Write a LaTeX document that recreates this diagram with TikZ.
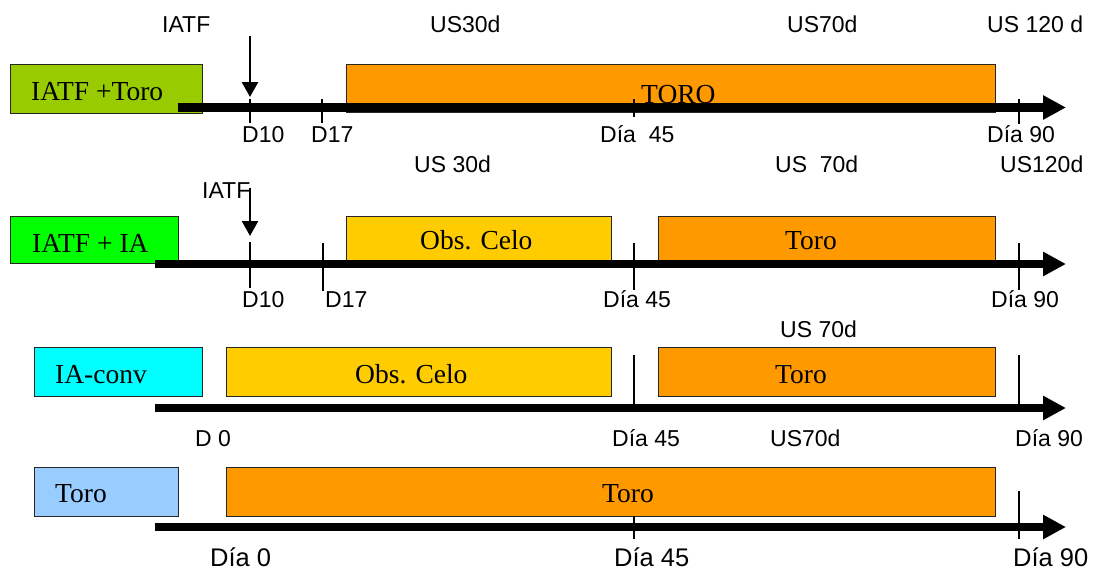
\documentclass[tikz,border=0pt]{standalone}
\usepackage{fontspec}
\setmainfont{Liberation Serif}
\newfontfamily\arialf{Liberation Sans}
\usetikzlibrary{arrows.meta}
\definecolor{cgA}{HTML}{99CC00}
\definecolor{cgB}{HTML}{00FF00}
\definecolor{ccy}{HTML}{00FFFF}
\definecolor{cbl}{HTML}{99CCFF}
\definecolor{cor}{HTML}{FF9900}
\definecolor{cye}{HTML}{FFCC00}
\begin{document}
\begin{tikzpicture}[x=1pt,y=-1pt,
 bx/.style={draw=black!85, line width=0.9pt, anchor=north west, inner sep=0pt, outer sep=0pt},
 lbl/.style={font=\arialf\fontsize{23}{26}\selectfont, anchor=base west, inner sep=0pt},
 lblbig/.style={font=\arialf\fontsize{25.5}{28}\selectfont, anchor=base west, inner sep=0pt},
 srf/.style={font=\fontsize{27.5}{31}\selectfont, anchor=base west, inner sep=0pt},
 axisline/.style={line width=8.5pt, -{Triangle[length=23pt,width=23pt]}},
 tickline/.style={line width=1.3pt},
 dropline/.style={line width=2.5pt, -{Triangle[length=15pt,width=16pt]}}]
\useasboundingbox (0,0) rectangle (1093,570);

% ---------- Row 1 ----------
\node[bx, fill=cgA, minimum width=192pt, minimum height=49pt] (b11) at (10,64) {};
\node[bx, fill=cor, minimum width=649pt, minimum height=48pt] (b12) at (346,64) {};
\coordinate (a1s) at (178,107.5); \coordinate (a1e) at (1066,107.5);
\draw[axisline] (a1s) -- (a1e);
\coordinate (t11a) at (250,99);  \coordinate (t11b) at (250,123);
\coordinate (t12a) at (322,99);  \coordinate (t12b) at (322,123);
\coordinate (t13a) at (634,99);  \coordinate (t13b) at (634,117);
\coordinate (t14a) at (1019,99); \coordinate (t14b) at (1019,124);
\draw[tickline] (t11a) -- (t11b);
\draw[tickline] (t12a) -- (t12b);
\draw[tickline] (t13a) -- (t13b);
\draw[tickline] (t14a) -- (t14b);
\coordinate (d1s) at (250,36); \coordinate (d1e) at (250,97);
\draw[dropline] (d1s) -- (d1e);
\node[lbl] (l11) at (162,32) {IATF};
\node[lbl] (l12) at (430,32) {US30d};
\node[lbl] (l13) at (787,32) {US70d};
\node[lbl] (l14) at (987,32) {US 120 d};
\node[lbl] (l15) at (242,142) {D10};
\node[lbl] (l16) at (311,142) {D17};
\node[lbl] (l17) at (600,142) {Día\ \ 45};
\node[lbl] (l18) at (987,142) {Día 90};
\node[srf] (s11) at (31,100) {IATF +Toro};
\node[srf] (s12) at (641,103) {TORO};

% ---------- Row 2 ----------
\node[bx, fill=cgB, minimum width=168pt, minimum height=47pt] (b21) at (10,216) {};
\node[bx, fill=cye, minimum width=265pt, minimum height=47pt] (b22) at (346,216) {};
\node[bx, fill=cor, minimum width=337pt, minimum height=47pt] (b23) at (658,216) {};
\coordinate (a2s) at (155,264); \coordinate (a2e) at (1066,264);
\draw[axisline] (a2s) -- (a2e);
\coordinate (t21a) at (250,242);  \coordinate (t21b) at (250,288);
\coordinate (t22a) at (323,243);  \coordinate (t22b) at (323,291);
\coordinate (t23a) at (634,243);  \coordinate (t23b) at (634,290);
\coordinate (t24a) at (1019,243); \coordinate (t24b) at (1019,290);
\draw[tickline] (t21a) -- (t21b);
\draw[tickline] (t22a) -- (t22b);
\draw[tickline] (t23a) -- (t23b);
\draw[tickline] (t24a) -- (t24b);
\coordinate (d2s) at (250,188); \coordinate (d2e) at (250,236);
\draw[dropline] (d2s) -- (d2e);
\node[lbl] (l21) at (202,198) {IATF};
\node[lbl] (l22) at (414,172) {US 30d};
\node[lbl] (l23) at (775,172) {US\ \ 70d};
\node[lbl] (l24) at (1000,172) {US120d};
\node[lbl] (l25) at (242,307) {D10};
\node[lbl] (l26) at (325,307) {D17};
\node[lbl] (l27) at (603,307) {Día 45};
\node[lbl] (l28) at (991,307) {Día 90};
\node[srf] (s21) at (32,252) {IATF + IA};
\node[srf] (s22) at (420,249) {Obs. Celo};
\node[srf] (s23) at (785,249) {Toro};

% ---------- Row 3 ----------
\node[bx, fill=ccy, minimum width=168pt, minimum height=49pt] (b31) at (34,347) {};
\node[bx, fill=cye, minimum width=385pt, minimum height=49pt] (b32) at (226,347) {};
\node[bx, fill=cor, minimum width=337pt, minimum height=49pt] (b33) at (658,347) {};
\coordinate (a3s) at (155,408); \coordinate (a3e) at (1066,408);
\draw[axisline] (a3s) -- (a3e);
\coordinate (t31a) at (634,355);  \coordinate (t31b) at (634,404);
\coordinate (t32a) at (1019,355); \coordinate (t32b) at (1019,404);
\draw[tickline] (t31a) -- (t31b);
\draw[tickline] (t32a) -- (t32b);
\node[lbl] (l31) at (780,337) {US 70d};
\node[lbl] (l32) at (195,446) {D 0};
\node[lbl] (l33) at (612,446) {Día 45};
\node[lbl] (l34) at (770,446) {US70d};
\node[lbl] (l35) at (1015,446) {Día 90};
\node[srf] (s31) at (55,383) {IA-conv};
\node[srf] (s32) at (355,383) {Obs. Celo};
\node[srf] (s33) at (775,383) {Toro};

% ---------- Row 4 ----------
\node[bx, fill=cbl, minimum width=144pt, minimum height=49pt] (b41) at (34,467) {};
\node[bx, fill=cor, minimum width=769pt, minimum height=49pt] (b42) at (226,467) {};
\coordinate (a4s) at (155,527); \coordinate (a4e) at (1066,527);
\draw[axisline] (a4s) -- (a4e);
\coordinate (t41a) at (634,516);  \coordinate (t41b) at (634,539);
\coordinate (t42a) at (1019,491); \coordinate (t42b) at (1019,539);
\draw[tickline] (t41a) -- (t41b);
\draw[tickline] (t42a) -- (t42b);
\node[lblbig] (l41) at (210,566) {Día 0};
\node[lblbig] (l42) at (614,566) {Día 45};
\node[lblbig] (l43) at (1013,566) {Día 90};
\node[srf] (s41) at (55,502) {Toro};
\node[srf] (s42) at (602,502) {Toro};
\end{tikzpicture}
\end{document}
